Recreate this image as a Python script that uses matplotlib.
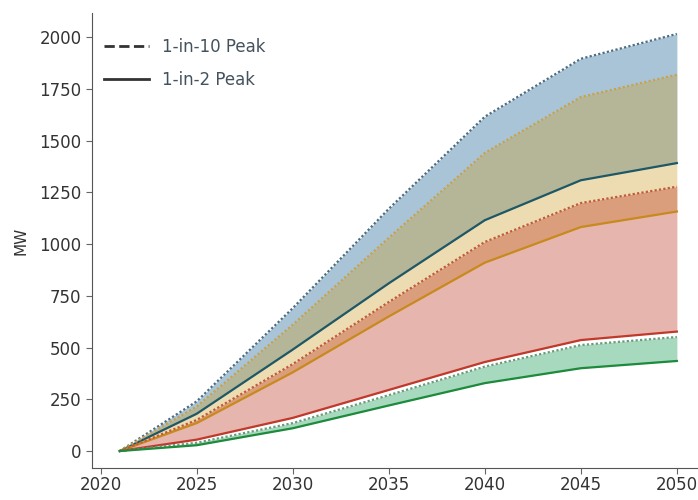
import matplotlib
matplotlib.use("Agg")
import matplotlib.pyplot as plt
from matplotlib.lines import Line2D

# Years on the x axis
years = [2021, 2025, 2030, 2035, 2040, 2045, 2050]

# Scenario A (blue)
blue_1in10 = [0, 240, 690, 1170, 1615, 1895, 2015]
blue_1in2 = [0, 180, 490, 810, 1115, 1308, 1391]

# Scenario B (gold)
gold_1in10 = [0, 215, 610, 1030, 1440, 1710, 1818]
gold_1in2 = [0, 135, 380, 650, 910, 1082, 1157]

# Scenario C (red)
red_1in10 = [0, 150, 420, 720, 1010, 1198, 1277]
red_1in2 = [0, 55, 160, 295, 430, 536, 577]

# Scenario D (green)
green_1in10 = [0, 40, 135, 270, 408, 512, 551]
green_1in2 = [0, 28, 110, 220, 328, 400, 435]

scenarios = [
    (blue_1in10, blue_1in2, "#06568a", "#4d6d82", "#1e5867"),
    (gold_1in10, gold_1in2, "#ce9b23", "#c9a24a", "#c88a1c"),
    (red_1in10, red_1in2, "#b82c18", "#c05a3c", "#c0392b"),
    (green_1in10, green_1in2, "#019242", "#6a9a7a", "#1d8a3c"),
]

fig = plt.figure(figsize=(6.98, 5.0), dpi=100)
ax = fig.add_axes([92 / 698, 32 / 500, 606 / 698, 455 / 500])

for hi, lo, fill_col, dot_col, line_col in scenarios:
    ax.fill_between(years, lo, hi, color=fill_col, alpha=0.35, linewidth=0)
    ax.plot(years, hi, linestyle=(0, (1, 1)), color=dot_col, linewidth=1.6)
    ax.plot(years, lo, linestyle="-", color=line_col, linewidth=1.6)

ax.set_xlim(2019.55, 2051.1)
ax.set_ylim(-82, 2116)
ax.set_ylabel("MW", fontsize=11, color="#333333", labelpad=8)
ax.set_yticks([0, 250, 500, 750, 1000, 1250, 1500, 1750, 2000])
ax.set_xticks([2020, 2025, 2030, 2035, 2040, 2045, 2050])
ax.tick_params(labelsize=12, colors="#333333", length=4, color="#666666")
ax.tick_params(axis="x", pad=2)
for side in ["top", "right"]:
    ax.spines[side].set_visible(False)
for side in ["left", "bottom"]:
    ax.spines[side].set_color("#555555")

handles = [
    Line2D([], [], color="#333333", linestyle="--", linewidth=2),
    Line2D([], [], color="#333333", linestyle="-", linewidth=2),
]
leg = ax.legend(handles, ["1-in-10 Peak", "1-in-2 Peak"], loc="upper left",
                bbox_to_anchor=(0.0, 0.97), frameon=False, fontsize=12,
                handlelength=2.7, labelspacing=0.9, borderaxespad=0.3)
for t in leg.get_texts():
    t.set_color("#44525e")

fig.savefig("out.png", dpi=100)
